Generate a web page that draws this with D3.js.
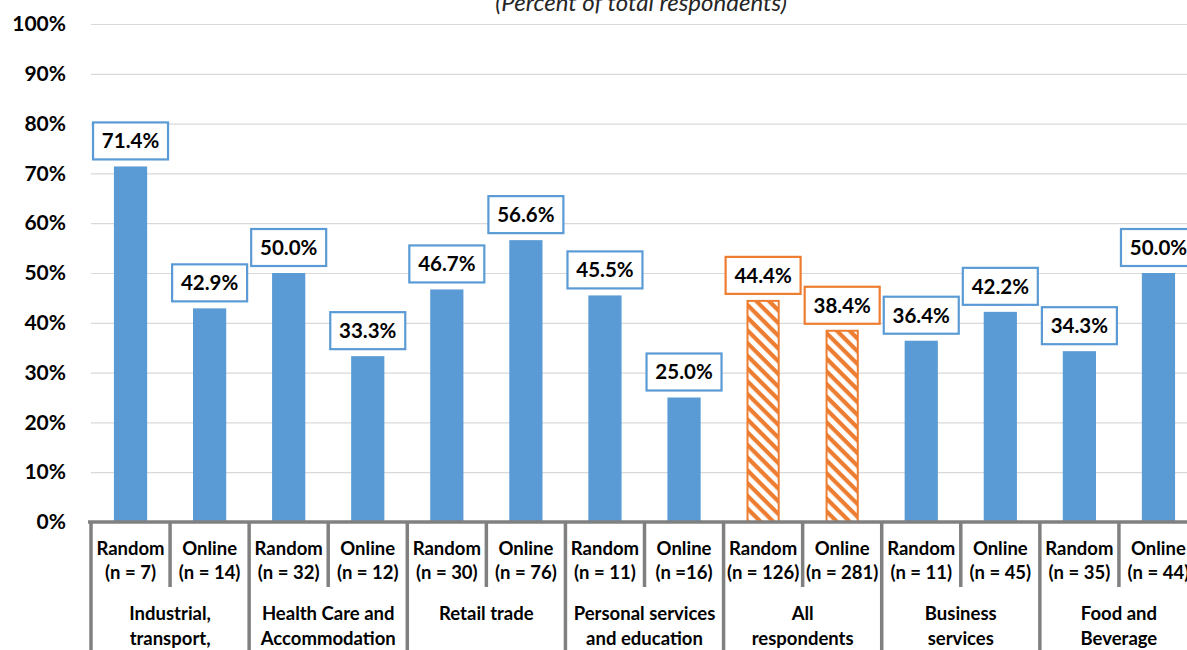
<!DOCTYPE html>
<html><head><meta charset="utf-8">
<script src="https://cdn.jsdelivr.net/npm/d3@7"></script>
<style>
html,body{margin:0;padding:0;background:#fff;overflow:hidden;}
svg{display:block;font-family:Lato,"Open Sans",sans-serif;}
</style></head>
<body>
<svg id="chart" width="1187" height="650"></svg>
<script>
const title = "(Percent of total respondents)";
const groupLabels = [
  ["Industrial,", "transport,"],
  ["Health Care and", "Accommodation"],
  ["Retail trade"],
  ["Personal services", "and education"],
  ["All", "respondents"],
  ["Business", "services"],
  ["Food and", "Beverage"]
];
const methods = ["Random","Online","Random","Online","Random","Online","Random","Online","Random","Online","Random","Online","Random","Online"];
const nLabels = ["(n = 7)","(n = 14)","(n = 32)","(n = 12)","(n = 30)","(n = 76)","(n = 11)","(n =16)","(n = 126)","(n = 281)","(n = 11)","(n = 45)","(n = 35)","(n = 44)"];
const values = [71.4, 42.9, 50.0, 33.3, 46.7, 56.6, 45.5, 25.0, 44.4, 38.4, 36.4, 42.2, 34.3, 50.0];
const highlighted = [false,false,false,false,false,false,false,false,true,true,false,false,false,false];
const yTicks = [0,10,20,30,40,50,60,70,80,90,100];

(function(){
const blue = "#5B9BD5", orange = "#ED7D31", gray = "#808080";
const svg = d3.select("#chart");
const mLeft = 91, mRight = 1198, mTop = 24, mBottom = 522;

const x = d3.scaleBand().domain(d3.range(values.length)).range([mLeft, mRight]).paddingInner(0.58).paddingOuter(0.29);
const y = d3.scaleLinear().domain([0, 100]).range([mBottom, mTop]);

const defs = svg.append("defs");
const P = 9;
const pat = defs.append("pattern").attr("id","hatch").attr("patternUnits","userSpaceOnUse")
  .attr("width", P).attr("height", P).attr("patternTransform","rotate(45)");
pat.append("rect").attr("width",P).attr("height",P).attr("fill","#fff");
pat.append("rect").attr("x",0).attr("y",0).attr("width",P).attr("height",4.2).attr("fill",orange);

svg.append("text").attr("x", 641).attr("y", 11).attr("text-anchor","middle")
  .attr("font-style","italic").attr("font-size", 24).attr("fill","#262626").text(title);

const yAxis = d3.axisLeft(y).tickValues(yTicks).tickFormat(d => d + "%").tickSize(-(1187 - mLeft)).tickPadding(25);
const gy = svg.append("g").attr("transform", `translate(${mLeft},0)`).call(yAxis);
gy.select(".domain").remove();
gy.selectAll(".tick line").attr("stroke","#D9D9D9").attr("stroke-width",1.2);
gy.selectAll(".tick text").attr("font-size", 21).attr("font-weight","bold").attr("fill","#000")
  .attr("font-family","Lato,sans-serif").attr("x", -25);

svg.append("g").selectAll("rect").data(values).join("rect")
  .attr("x", (d,i) => highlighted[i] ? x(i) + 1 : x(i))
  .attr("width", (d,i) => highlighted[i] ? x.bandwidth() - 2 : x.bandwidth())
  .attr("y", d => y(d))
  .attr("height", d => mBottom - y(d))
  .attr("fill", (d,i) => highlighted[i] ? "url(#hatch)" : blue)
  .attr("stroke", (d,i) => highlighted[i] ? orange : "none")
  .attr("stroke-width", 2);

const bw = 75, bh = 37;
const lbl = svg.append("g").selectAll("g").data(values).join("g")
  .attr("transform", (d,i) => `translate(${x(i) + x.bandwidth()/2},${y(d) - 7 - bh/2})`);
lbl.append("rect").attr("x", -bw/2).attr("y", -bh/2).attr("width", bw).attr("height", bh)
  .attr("fill","#fff").attr("stroke", (d,i) => highlighted[i] ? orange : blue).attr("stroke-width", 2.2);
lbl.append("text").attr("text-anchor","middle").attr("dy","0.36em").attr("font-size",20.5)
  .attr("font-weight","bold").attr("fill","#000").text(d => d.toFixed(1) + "%");

const step = x.step();
svg.append("line").attr("x1", mLeft - 3).attr("x2", 1187).attr("y1", mBottom).attr("y2", mBottom)
  .attr("stroke", gray).attr("stroke-width", 3.5);
const seps = d3.range(values.length + 1);
svg.append("g").selectAll("line").data(seps).join("line")
  .attr("x1", k => mLeft + k*step).attr("x2", k => mLeft + k*step)
  .attr("y1", mBottom).attr("y2", k => k % 2 === 0 ? 660 : 587)
  .attr("stroke", gray).attr("stroke-width", 3.5);

const cat = svg.append("g").attr("font-weight","bold").attr("font-size",18.5).attr("fill","#000").attr("text-anchor","middle");
cat.selectAll("text.m").data(methods).join("text").attr("class","m")
  .attr("x",(d,i)=> x(i)+x.bandwidth()/2).attr("y",555).text(d=>d);
cat.selectAll("text.n").data(nLabels).join("text").attr("class","n")
  .attr("x",(d,i)=> x(i)+x.bandwidth()/2).attr("y",579).text(d=>d);
const gl = cat.selectAll("g.grp").data(groupLabels).join("g").attr("class","grp");
gl.each(function(lines, gi){
  const cx = mLeft + (gi*2 + 1)*step;
  d3.select(this).selectAll("text").data(lines).join("text")
    .attr("x", cx).attr("y", (d,li)=> 620 + li*25).text(d=>d);
});
})();
</script>
</body></html>
